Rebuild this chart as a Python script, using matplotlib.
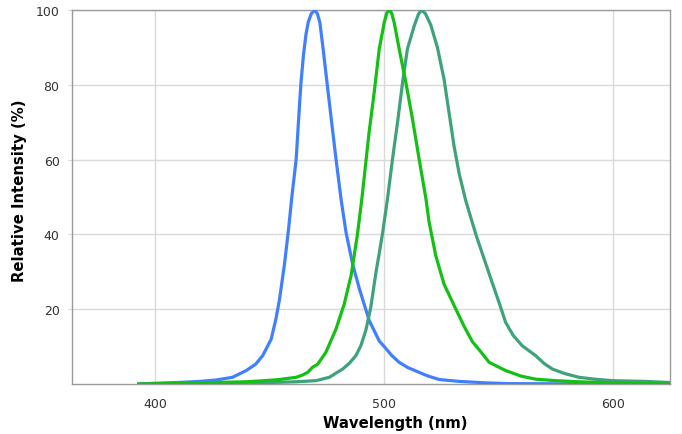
import matplotlib
matplotlib.use('Agg')
import matplotlib.pyplot as plt

# emission spectra (wavelength nm, relative intensity %)
blue_nm = [393, 400, 410, 419.5, 427, 433.9, 439.9, 444, 447.1, 450.8, 452.9, 454.4,
           456.6, 458.4, 459.9, 461.7, 462.8, 463.8, 464.9, 466.0, 467.0, 468.3, 469.8,
           471.0, 472.1, 473.3, 475.2, 477.2, 479.1, 481.3, 483.5, 486.4, 489.3, 493.6,
           498, 500.2, 503.5, 506.7, 510.5, 514.7, 519, 524.2, 532.9, 545, 554.7, 580, 625]
blue_val = [0, 0.2, 0.4, 0.7, 1.1, 1.8, 3.6, 5.3, 7.6, 12, 17.5, 22.5,
            32, 41.5, 50.5, 60, 71, 80.5, 88, 93.5, 96.8, 99, 100,
            99, 96.5, 90.5, 80.5, 70, 60.2, 49.5, 40.5, 32, 25.5, 17,
            11.5, 10, 7.6, 5.8, 4.4, 3.3, 2.2, 1.2, 0.7, 0.3, 0.1, 0.05, 0]

green_nm = [393, 410, 425, 439.9, 448, 454.4, 461.7, 464.5, 466.7, 468.9, 471.1, 474.7,
            479.1, 482.7, 485.7, 488.5, 490.4, 493.6, 495.8, 498, 500.2, 501.3, 502.3,
            503.4, 504.5, 506.7, 509.6, 512.5, 515.4, 518.4, 519.8, 522.7, 526.3, 531.4,
            535, 538.7, 541.6, 546, 553.2, 560, 566.3, 575, 585.2, 600, 625]
green_val = [0, 0.2, 0.4, 0.6, 0.9, 1.2, 1.8, 2.4, 3.1, 4.5, 5.3, 8.5,
             14.7, 21.4, 29, 40.1, 49.5, 67.5, 78, 89.6, 96.7, 99.2, 100,
             99.2, 96.7, 89.6, 80.7, 70.9, 60.2, 49.5, 43.2, 34.3, 26.7, 20.1,
             15.5, 11.3, 9.2, 5.8, 3.6, 2.1, 1.3, 0.9, 0.6, 0.3, 0]

teal_nm = [393, 420, 445, 461.7, 470.4, 476.2, 482, 485, 487.8, 490, 492.2, 494.3,
           496.6, 498, 499.4, 501.6, 503.8, 506, 508.2, 510.3, 513.3, 515.2, 516.6,
           518.2, 520.5, 523.4, 526.3, 528.5, 530.7, 533, 535.8, 540.2, 543.5, 547.4,
           550.5, 553.2, 556.5, 560.5, 566.3, 570, 573.6, 579, 585.2, 592, 599.7, 614.3, 625]
teal_val = [0, 0.1, 0.3, 0.6, 0.9, 1.8, 4, 5.6, 7.6, 10.3, 14.5, 20.5,
            30, 35, 40.1, 49.5, 60.2, 70, 80.7, 89.6, 95.8, 99, 100,
            99, 96, 90, 81.5, 72.5, 63.5, 56, 49, 40, 34, 27, 21.5, 16.5,
            13, 10.2, 7.6, 5.5, 4, 2.8, 1.8, 1.3, 0.9, 0.7, 0.4]

x_ticks = [400, 500, 600]
y_ticks = [20, 40, 60, 80, 100]

plt.rcParams['font.family'] = ['DejaVu Sans']

fig = plt.figure(figsize=(6.82, 4.35), dpi=100)
ax = fig.add_axes([0.1056, 0.1149, 0.8768, 0.8598])

ax.plot(blue_nm, blue_val, color='#4080ff', lw=2.3, solid_joinstyle='round', zorder=3)
ax.plot(teal_nm, teal_val, color='#3ea37b', lw=2.3, solid_joinstyle='round', zorder=3)
ax.plot(green_nm, green_val, color='#14c014', lw=2.3, solid_joinstyle='round', zorder=4)

ax.set_xlim(363.8, 625)
ax.set_ylim(0, 100)
ax.set_xticks(x_ticks)
ax.set_yticks(y_ticks)
ax.grid(True, color='#d9d9d9', lw=1)
ax.set_axisbelow(True)
for s in ax.spines.values():
    s.set_color('#9a9a9a')
    s.set_linewidth(1)
ax.tick_params(axis='x', length=0, pad=9, labelsize=9, colors='#333333')
ax.tick_params(axis='y', length=3, color='#d9d9d9', pad=6, labelsize=9, labelcolor='#333333')

ax.set_xlabel('Wavelength (nm)', fontsize=10.7, fontweight='bold')
ax.set_ylabel('Relative Intensity (%)', fontsize=10.7, fontweight='bold')
ax.xaxis.set_label_coords(0.541, -0.083)
ax.yaxis.set_label_coords(-0.076, 0.52)

fig.savefig('out.png', dpi=100)
